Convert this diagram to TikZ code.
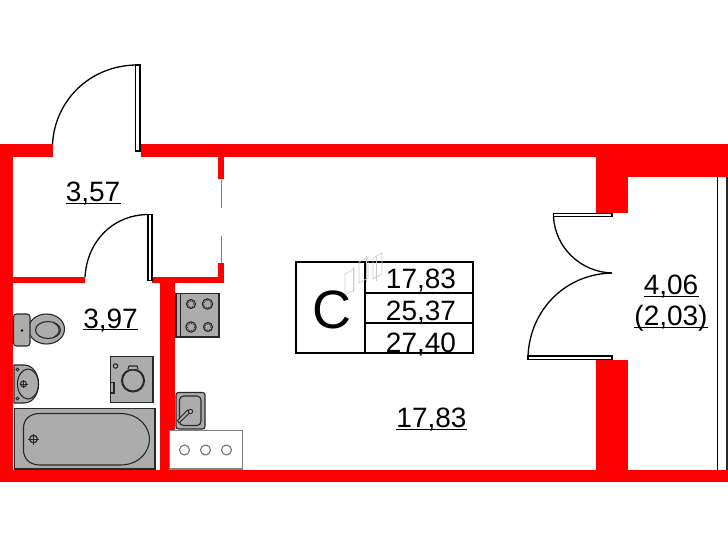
\documentclass[tikz,border=0pt]{standalone}
\usepackage{fontspec}
\setmainfont{Liberation Sans}
\definecolor{wallred}{RGB}{255,0,0}
\definecolor{fixgray}{RGB}{172,172,172}
\definecolor{inkdark}{RGB}{40,40,40}
\tikzset{
  wall/.style={fill=wallred,draw=none},
  leaf/.style={draw=black,fill=white,line width=1.2pt},
  swing/.style={draw=black,line width=1.3pt},
  fixture/.style={draw=inkdark,fill=fixgray,line width=1.1pt},
  fixline/.style={draw=inkdark,line width=1.1pt},
  cell/.style={draw=black,line width=1.6pt},
  area/.style={anchor=base,inner sep=0pt,font=\fontsize{28}{28}\selectfont,text=black},
  uline/.style={draw=black,line width=0.9pt},
  ghost/.style={draw=black!20,line width=0.6pt},
}
\begin{document}
\begin{tikzpicture}[x=1pt,y=-1pt]
\useasboundingbox (0,0) rectangle (728,546);
\fill[white] (0,0) rectangle (728,546);
% outer walls
\path[wall] (0,144) rectangle (52.5,157);
\path[wall] (141,144) rectangle (728,157);
\path[wall] (0,144) rectangle (13,482);
\path[wall] (0,470) rectangle (728,482);
% partitions
\path[wall] (13,277) rectangle (85,283);
\path[wall] (152,277) rectangle (224,283);
\path[wall] (160,283) rectangle (175,470);
\path[wall] (218,157) rectangle (224,179);
\path[wall] (218,263) rectangle (224,283);
\draw[draw=black!50,line width=1pt] (221,180) -- (221,208) (221,236) -- (221,263);
% right wall
\path[wall] (596,157) rectangle (728,177);
\path[wall] (596,157) rectangle (628,213);
\path[wall] (596,359.5) rectangle (628,470);
% balcony glazing
\draw[draw=black,line width=1pt] (717,177) -- (717,470);
\draw[draw=inkdark,line width=1.6pt] (727,177) -- (727,470);
% doors
\path[leaf] (135.5,65) rectangle (140,151);
\draw[swing] (135.5,65) .. controls (90,66) and (55,100) .. (52.5,144);
\path[leaf] (148,214.5) rectangle (152,280.5);
\draw[swing] (148,214.5) .. controls (112,215) and (87,242) .. (85,277);
\path[leaf] (553.5,213.5) rectangle (612,216.5);
\path[leaf] (528,356) rectangle (612,359.5);
\draw[swing] (553.5,216.5) .. controls (555,247) and (580,272) .. (612,273);
\draw[swing] (612,273) .. controls (565,274) and (530,310) .. (528,356);
% stove
\path[fixture] (176,293.5) rectangle (219,337);
\draw[fixline] (180.5,293.5) -- (180.5,337);
\foreach \bx/\by/\br in {191/304/4.5,207.5/304/5.2,191/327/5.2,208/327/4.5}{
  \draw[fixline,line width=1.1pt] (\bx,\by) circle[radius=\br];
  \draw[fixline,densely dotted,line width=0.7pt] (\bx,\by) circle[radius=\br-1.5];
}
% kitchen sink
\path[fixture,rounded corners=2.5pt] (176,392.5) rectangle (205,429);
\draw[fixline,rounded corners=4pt] (179.5,396) rectangle (201,425.5);
\draw[fixline,fill=fixgray,line width=0.9pt] (179,423) -- (177.5,420.5) -- (187.5,410) -- (190,412.5) -- cycle;
\draw[fixline,fill=fixgray,line width=0.9pt] (190.5,411.5) circle[radius=2.2];
% hob
\draw[draw=black!50,fill=white,line width=1.1pt] (169.5,430.5) rectangle (242.5,469);
\foreach \hx in {184.5,205.5,226.5}{
  \draw[draw=black!55,line width=1.1pt] (\hx,450) circle[radius=5];
}
% bath
\path[fixture] (14.5,408.5) rectangle (155,469);
\draw[fixline] (40,413.5) -- (120,413.5) .. controls (140,413.5) and (149.5,428) .. (149.5,439) .. controls (149.5,451) and (140,465) .. (120,465) -- (40,465) .. controls (29,465) and (23.5,458) .. (23.5,450) -- (23.5,428) .. controls (23.5,420) and (29,413.5) .. (40,413.5) -- cycle;
\draw[fixline,line width=1.2pt] (33.5,439) circle[radius=3.8];
\draw[fixline,line width=0.8pt] (28,439) -- (39,439) (33.5,433.5) -- (33.5,444.5);
% washer
\path[fixture] (110.5,356.5) rectangle (153,402.5);
\draw[fixline,line width=2pt] (133,380.5) circle[radius=11];
\draw[fixline,fill=fixgray] (128,369) -- (129,366) -- (137,366) -- (138,369);
\draw[fixline] (115.5,366) circle[radius=2.2];
\draw[fixline] (110.5,382.5) rectangle (114,393);
% toilet
\path[fixture] (46.5,329) ellipse[x radius=18,y radius=15];
\draw[fixline] (48,330) ellipse[x radius=12.5,y radius=8.5];
\draw[fixline] (54,323) .. controls (61,326) and (61,334) .. (54,337);
\path[fixture,rounded corners=3pt] (13.5,314) rectangle (30,346);
\fill[black] (22,330.5) circle[radius=1.4];
% wash basin
\path[fixture] (14,365) -- (24,365) .. controls (33,365) and (38.5,374) .. (38.5,384) .. controls (38.5,394) and (33,403) .. (24,403) -- (14,403) -- cycle;
\draw[fixline] (28,384) ellipse[x radius=10.5,y radius=15];
\draw[fixline,line width=1pt] (23.5,384) circle[radius=3];
\draw[fixline,line width=0.7pt] (19.5,384) -- (27.5,384) (23.5,380) -- (23.5,388);
\draw[fixline,line width=0.8pt] (17.5,369.5) circle[radius=1.5] (17.5,398.5) circle[radius=1.5];
% table
\draw[cell] (296,262) rectangle (473,353);
\draw[cell] (365,262) -- (365,353);
\draw[cell] (365,293) -- (473,293);
\draw[cell] (365,323) -- (473,323);
% watermark
\foreach \gx/\gy in {345/270,359/258,373/254}{
  \draw[ghost] (\gx,\gy+4) -- (\gx+9,\gy-1) -- (\gx+9,\gy+20) -- (\gx,\gy+25) -- cycle;
}
\draw[ghost] (353,267) -- (353,292) (366,256) -- (366,283) (376,257) -- (376,281);
% texts
\node[area] (t1) at (421,288) {17,83};
\node[area] (t2) at (421,320) {25,37};
\node[area] (t3) at (421,352) {27,40};
\node[anchor=base,inner sep=0pt,font=\fontsize{54}{54}\selectfont] (cls) at (332,328) {C};
\node[area] (a1) at (93,201) {3,57};
\draw[uline] (66,203) -- (121,203);
\node[area] (a2) at (110.5,328) {3,97};
\draw[uline] (83,329.5) -- (138,329.5);
\node[area] (a3) at (431.5,427) {17,83};
\draw[uline] (396,429) -- (467,429);
\node[area] (a4) at (671,294) {4,06};
\draw[uline] (644,296) -- (699,296);
\node[area] (a5) at (671,325) {(2,03)};
\draw[uline] (634,327.5) -- (708,327.5);
\end{tikzpicture}
\end{document}
